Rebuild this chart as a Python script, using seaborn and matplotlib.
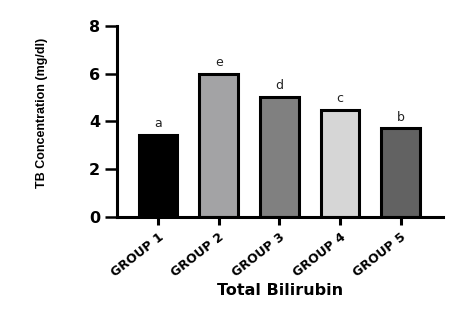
import matplotlib
matplotlib.use("Agg")
import matplotlib.pyplot as plt
import seaborn as sns
import pandas as pd

groups = ["GROUP 1", "GROUP 2", "GROUP 3", "GROUP 4", "GROUP 5"]
values = [3.43, 5.98, 5.04, 4.49, 3.71]
letters = ["a", "e", "d", "c", "b"]
colors = ["#000000", "#a2a2a6", "#808080", "#d6d6d6", "#626262"]

sns.set_theme(style="ticks")
plt.rcParams['font.family'] = ['DejaVu Sans']
plt.rcParams['text.color'] = 'black'
plt.rcParams['axes.labelcolor'] = 'black'
plt.rcParams['xtick.color'] = 'black'
plt.rcParams['ytick.color'] = 'black'
plt.rcParams['axes.edgecolor'] = 'black'

df = pd.DataFrame({"group": groups, "value": values})

fig = plt.figure(figsize=(4.6, 3.13), dpi=100)
ax = fig.add_axes([0.254, 0.307, 0.709, 0.61])
sns.barplot(data=df, x="group", y="value", hue="group", palette=colors,
            width=0.64, edgecolor="black", linewidth=2.2, legend=False, ax=ax)

for p, lab in zip(ax.patches, letters):
    ax.text(p.get_x() + p.get_width() / 2, p.get_height() + 0.2, lab,
            ha="center", va="bottom", fontsize=9, color="#222222")

ax.set_ylim(0, 8)
ax.set_xlim(-0.68, 4.7)
ax.set_yticks([0, 2, 4, 6, 8])
sns.despine(ax=ax)
for s in ["left", "bottom"]:
    ax.spines[s].set_linewidth(2.2)
ax.tick_params(axis="x", width=2.2, length=6, color="black")
ax.tick_params(axis="y", width=1.8, length=9, pad=3, color="black")
ax.set_yticklabels(["0", "2", "4", "6", "8"], fontsize=11.5, fontweight="bold")
ax.set_xticks(range(len(groups)))
ax.set_xticklabels(groups, rotation=38, ha="right", va="top",
                   rotation_mode="anchor", fontsize=9, fontweight="bold")
ax.set_xlabel("Total Bilirubin", fontsize=11.5, fontweight="bold")
ax.xaxis.set_label_coords(0.5, -0.345)
ax.set_ylabel("TB Concentration (mg/dl)", fontsize=9, fontweight="bold",
              family=["Liberation Sans"])
ax.yaxis.set_label_coords(-0.212, 0.545)

fig.savefig("out.png", dpi=100)
